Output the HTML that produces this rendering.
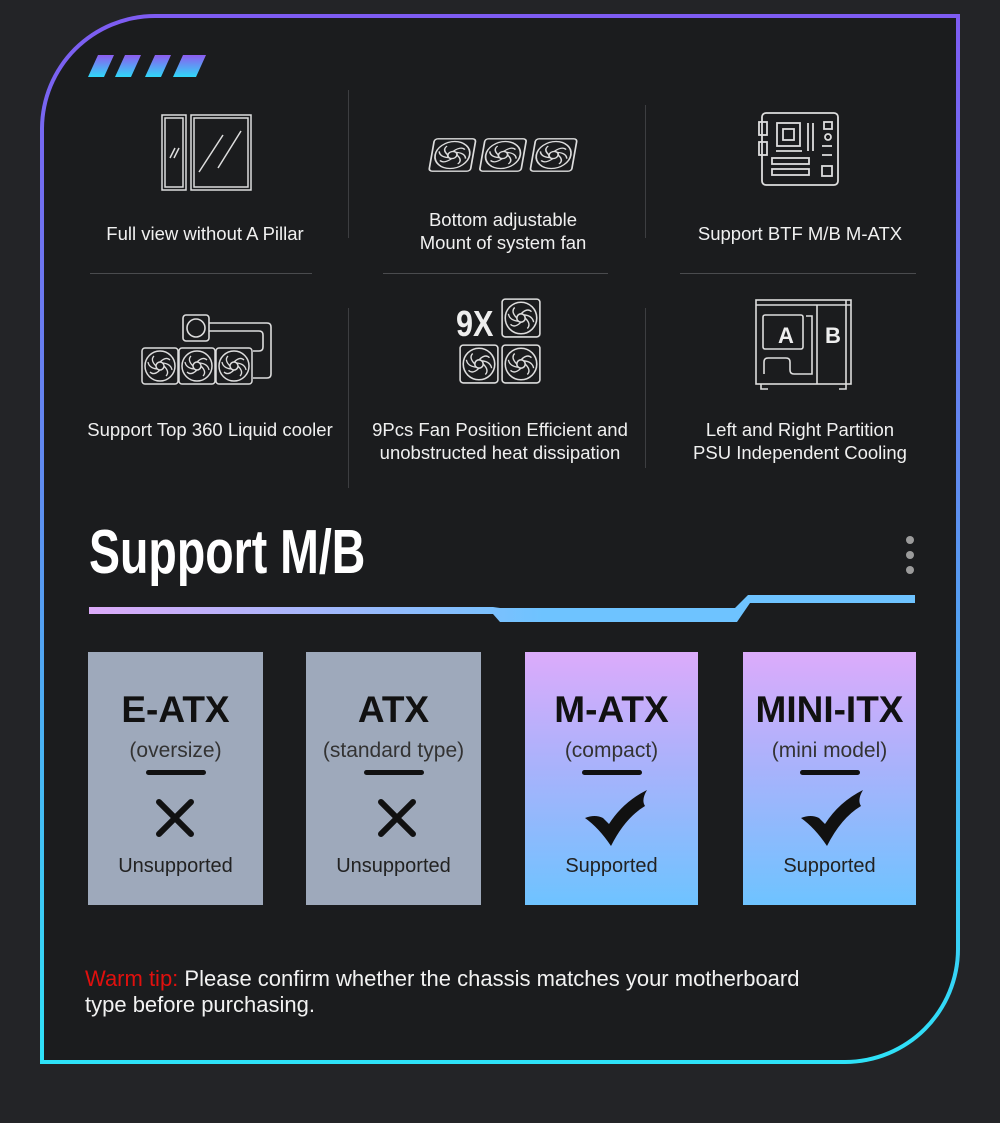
<!DOCTYPE html>
<html><head><meta charset="utf-8"><style>
*{margin:0;padding:0;box-sizing:border-box}
body{width:1000px;height:1123px;background:#232427;position:relative;overflow:hidden;font-family:"Liberation Sans",sans-serif;color:#f2f2f2}
.frame{position:absolute;left:40px;top:14px;width:920px;height:1050px;border-radius:115px 0 115px 0;background:linear-gradient(180deg,#7e5cf2 0%,#5f8cf0 45%,#2ee2f8 100%)}
.inner{position:absolute;left:4px;top:4px;right:4px;bottom:4px;border-radius:111px 0 111px 0;background:#1b1c1e}
.abs{position:absolute}
.lbl{position:absolute;text-align:center;font-size:18.5px;line-height:23px;color:#f0f0f0;transform:translateX(-50%);white-space:nowrap}
.vl{position:absolute;width:1px;background:#3d3e41}
.hl{position:absolute;height:1px;background:#4a4b4e}
.box{position:absolute;top:652px;height:253px;text-align:center;color:#111}
.box .t{position:absolute;left:0;right:0;top:38px;font-size:37px;font-weight:bold;line-height:40px}
.box .s{position:absolute;left:0;right:0;top:86px;font-size:21px;color:#333;line-height:26px}
.box .b{position:absolute;left:50%;top:118px;width:60px;margin-left:-30px;height:5px;border-radius:3px;background:#111}
.box .u{position:absolute;left:0;right:0;top:202px;font-size:20px;line-height:24px;color:#222}
.gray{background:#9ea9bb}
.grad{background:linear-gradient(180deg,#dcabfb 0%,#a9b2fb 45%,#6ec3ff 100%)}
svg.top{z-index:5}
</style></head><body>
<div class="frame"><div class="inner"></div></div>

<div class="vl" style="left:348px;top:90px;height:148px"></div>
<div class="vl" style="left:645px;top:105px;height:133px"></div>
<div class="vl" style="left:348px;top:308px;height:180px"></div>
<div class="vl" style="left:645px;top:308px;height:160px"></div>
<div class="hl" style="left:90px;top:273px;width:222px"></div>
<div class="hl" style="left:383px;top:273px;width:225px"></div>
<div class="hl" style="left:680px;top:273px;width:236px"></div>

<div class="lbl" style="left:205px;top:222px">Full view without A Pillar</div>
<div class="lbl" style="left:503px;top:208px">Bottom adjustable<br>Mount of system fan</div>
<div class="lbl" style="left:800px;top:222px">Support BTF M/B M-ATX</div>
<div class="lbl" style="left:210px;top:418px">Support Top 360 Liquid cooler</div>
<div class="lbl" style="left:500px;top:418px">9Pcs Fan Position Efficient and<br>unobstructed heat dissipation</div>
<div class="lbl" style="left:800px;top:418px">Left and Right Partition<br>PSU Independent Cooling</div>

<div class="abs" style="left:89px;top:518px;font-family:'Liberation Sans Narrow','Liberation Sans',sans-serif;font-weight:bold;font-size:62px;line-height:70px;color:#fff;transform:scaleX(0.75);transform-origin:left;white-space:nowrap">Support M/B</div>

<div class="box gray" style="left:88px;width:175px"><div class="t">E-ATX</div><div class="s">(oversize)</div><div class="b"></div><div class="u">Unsupported</div></div>
<div class="box gray" style="left:306px;width:175px"><div class="t">ATX</div><div class="s">(standard type)</div><div class="b"></div><div class="u">Unsupported</div></div>
<div class="box grad" style="left:525px;width:173px"><div class="t">M-ATX</div><div class="s">(compact)</div><div class="b"></div><div class="u">Supported</div></div>
<div class="box grad" style="left:743px;width:173px"><div class="t">MINI-ITX</div><div class="s">(mini model)</div><div class="b"></div><div class="u">Supported</div></div>

<svg class="abs top" style="left:0;top:0" width="1000" height="1123">
<defs>
<linearGradient id="st" x1="0" y1="0" x2="0" y2="1"><stop offset="0" stop-color="#8d5cf0"/><stop offset="1" stop-color="#2fd8f8"/></linearGradient>
<linearGradient id="ln" x1="0" y1="0" x2="1" y2="0"><stop offset="0" stop-color="#dcaaf8"/><stop offset="0.55" stop-color="#6ec3ff"/><stop offset="1" stop-color="#6ec3ff"/></linearGradient>
<g id="fan"><rect x="-18" y="-18" width="36" height="36" rx="3" fill="none" stroke="#ddd" stroke-width="1.5"/><circle r="15" fill="none" stroke="#ddd" stroke-width="1.5"/><circle r="4" fill="none" stroke="#ddd" stroke-width="1.5"/>
<path d="M0-4 Q6-10 10-6 M4 0 Q10 6 6 10 M0 4 Q-6 10 -10 6 M-4 0 Q-10-6 -6-10 M3-3 Q11-2 12 4 M-3 3 Q-11 2 -12-4" fill="none" stroke="#ddd" stroke-width="1.3"/></g>
</defs>
<g fill="url(#st)"><polygon points="98,55 114,55 104,77 88,77"/><polygon points="125,55 141,55 131,77 115,77"/><polygon points="155,55 171,55 161,77 145,77"/><polygon points="183,55 206,55 196,77 173,77"/></g>
<g fill="none" stroke="#ddd" stroke-width="1.5"><rect x="162" y="115" width="24" height="75"/><rect x="165" y="118" width="18" height="69"/><rect x="191" y="115" width="60" height="75"/><rect x="194" y="118" width="54" height="69"/><path d="M170 158l5-10M174 158l5-10M199 172l24-37M218 168l23-37"/></g>
<g transform="translate(503,155) skewX(-10)"><use href="#fan" x="-44" y="0" transform="scale(1.15,0.9)"/><use href="#fan" x="0" y="0" transform="scale(1.15,0.9)"/><use href="#fan" x="44" y="0" transform="scale(1.15,0.9)"/></g>
<g fill="none" stroke="#ddd" stroke-width="1.8"><rect x="762" y="113" width="76" height="72" rx="4"/><rect x="759" y="122" width="8" height="13"/><rect x="759" y="142" width="8" height="13"/><rect x="777" y="123" width="23" height="23"/><rect x="783" y="129" width="11" height="11"/><path d="M808 123v28M813 123v28" /><rect x="824" y="122" width="8" height="7"/><circle cx="828" cy="137" r="3"/><path d="M822 146h10M822 155h10M776 151h26"/><rect x="772" y="158" width="37" height="6"/><rect x="772" y="169" width="37" height="6"/><rect x="822" y="166" width="10" height="10"/></g>
<g fill="none" stroke="#ddd" stroke-width="1.6"><rect x="183" y="315" width="26" height="26" rx="3"/><circle cx="196" cy="328" r="9"/><path d="M209 323h58q4 0 4 4v47q0 4-4 4h-14M209 331h50q4 0 4 4v12q0 4-4 4h-6"/></g>
<g transform="translate(160,366)"><use href="#fan" x="0"/><use href="#fan" x="37"/><use href="#fan" x="74"/></g>
<text x="456" y="336" font-family="Liberation Sans Narrow,Liberation Sans,sans-serif" font-weight="bold" font-size="36" fill="#eee" transform="scale(0.85,1)" style="transform-origin:456px 336px">9X</text>
<g transform="translate(521,318) scale(1.05)"><use href="#fan"/></g>
<g transform="translate(479,364) scale(1.05)"><use href="#fan"/></g>
<g transform="translate(521,364) scale(1.05)"><use href="#fan"/></g>
<g fill="none" stroke="#ddd" stroke-width="1.6"><rect x="756" y="300" width="95" height="84"/><path d="M756 305h95M817 305v79M846 300v84M761 384v5h7M846 384v5h-7"/><rect x="763" y="315" width="40" height="34" rx="2"/><path d="M806 316h6v58h-18q-4 0-4-4v-8q0-4-4-4h-18q-4 0-4 4v12"/></g>
<text x="778" y="343" font-family="Liberation Sans Narrow,Liberation Sans,sans-serif" font-weight="bold" font-size="22" fill="#eee">A</text>
<text x="825" y="343" font-family="Liberation Sans Narrow,Liberation Sans,sans-serif" font-weight="bold" font-size="22" fill="#eee">B</text>
<polygon points="89,607 493,607 500,608 735,608 748,595 915,595 915,603 750,603 737,622 500,622 493,614 89,614" fill="url(#ln)"/>
<circle cx="910" cy="540" r="4" fill="#9b9b9b"/><circle cx="910" cy="555" r="4" fill="#9b9b9b"/><circle cx="910" cy="570" r="4" fill="#9b9b9b"/>
<g stroke="#111" stroke-width="6" stroke-linecap="round"><path d="M159 802l32 32M191 802l-32 32M381 802l32 32M413 802l-32 32"/></g>
<path d="M585 818q10-4 18 0l6 6q14-22 38-34q-6 10-2 16q-20 12-34 40q-12-18-26-28z" fill="#111"/>
<path d="M801 818q10-4 18 0l6 6q14-22 38-34q-6 10-2 16q-20 12-34 40q-12-18-26-28z" fill="#111"/>
</svg>

<div class="abs" style="left:85px;top:966px;width:850px;font-size:22px;line-height:26px;color:#f2f2f2;white-space:nowrap"><span style="color:#e0100e">Warm tip:</span> Please confirm whether the chassis matches your motherboard<br>type before purchasing.</div>
</body></html>
